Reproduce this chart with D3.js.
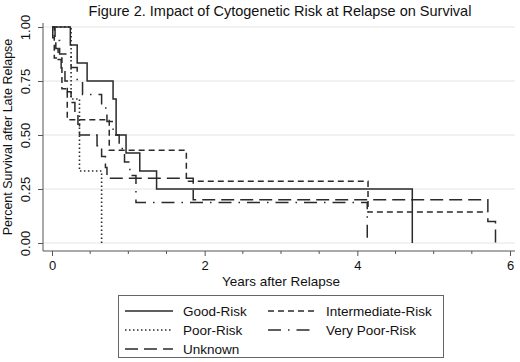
<!DOCTYPE html>
<html><head><meta charset="utf-8">
<script src="https://cdn.jsdelivr.net/npm/d3@7"></script>
<style>html,body{margin:0;padding:0;background:#fff;}svg{display:block;font-family:"Liberation Sans",Arial,sans-serif;}</style>
</head><body><svg id="c" width="520" height="362"></svg>
<script>
const title = "Figure 2. Impact of Cytogenetic Risk at Relapse on Survival";
const xTitle = "Years after Relapse";
const yTitle = "Percent Survival after Late Relapse";
const xTicks = [0, 2, 4, 6];
const xMinorTicks = [0.5, 1, 1.5, 2.5, 3, 3.5, 4.5, 5, 5.5];
const yTicks = [0, 0.25, 0.5, 0.75, 1];
const seriesNames = ["Good-Risk", "Intermediate-Risk", "Poor-Risk", "Very Poor-Risk", "Unknown"];

const goodTimes = [0, 0.24, 0.33, 0.46, 0.80, 0.84, 0.97, 1.15, 1.37, 4.72];
const goodSurv  = [1, 0.917, 0.833, 0.75, 0.667, 0.5, 0.417, 0.333, 0.25, 0];

const interTimes = [0, 0.03, 0.13, 0.20, 0.75, 1.76, 4.14, 5.70];
const interSurv  = [1, 0.857, 0.714, 0.571, 0.429, 0.286, 0.143, 0.143];

const poorTimes = [0, 0.25, 0.36, 0.65];
const poorSurv  = [1, 0.667, 0.333, 0];

const vpoorTimes = [0, 0.04, 0.10, 0.25, 0.33, 0.40, 0.65, 0.72, 0.80, 0.88, 0.95, 1.02, 1.10, 4.13];
const vpoorSurv  = [1, 0.9375, 0.875, 0.8125, 0.75, 0.6875, 0.625, 0.5625, 0.5, 0.4375, 0.375, 0.3125, 0.1875, 0];

const unkTimes = [0, 0.01, 0.05, 0.08, 0.12, 0.17, 0.20, 0.25, 0.30, 0.34, 0.36, 0.59, 0.65, 0.70, 0.72, 1.85, 5.71, 5.81];
const unkSurv  = [1, 0.95, 0.90, 0.85, 0.80, 0.75, 0.70, 0.65, 0.60, 0.55, 0.50, 0.45, 0.40, 0.35, 0.30, 0.20, 0.10, 0];

const dashes = {
  "Good-Risk": null,
  "Intermediate-Risk": "6,4",
  "Poor-Risk": "1.5,2.5",
  "Very Poor-Risk": "13,7,1.5,7",
  "Unknown": "13,6"
};
const seriesData = {
  "Good-Risk": [goodTimes, goodSurv],
  "Intermediate-Risk": [interTimes, interSurv],
  "Poor-Risk": [poorTimes, poorSurv],
  "Very Poor-Risk": [vpoorTimes, vpoorSurv],
  "Unknown": [unkTimes, unkSurv]
};

const svg = d3.select("#c");
const x = d3.scaleLinear().domain([0, 6]).range([52, 510]);
const y = d3.scaleLinear().domain([0, 1]).range([243, 27]);
const axisY = 251, axisX = 43;

svg.append("text").attr("x", 280).attr("y", 16).attr("text-anchor", "middle")
  .attr("font-size", 14.5).attr("fill", "#111").text(title);

// gridlines
svg.append("g").selectAll("line").data(yTicks).join("line")
  .attr("x1", axisX).attr("x2", 515).attr("y1", d => y(d)).attr("y2", d => y(d))
  .attr("stroke", "#e4e4e4").attr("stroke-width", 1);

// y axis
const ya = svg.append("g").attr("transform", `translate(${axisX},0)`)
  .call(d3.axisLeft(y).tickValues(yTicks).tickFormat(d3.format(".2f")).tickSize(5).tickSizeOuter(0));
ya.select(".domain").attr("stroke", "#555").attr("d", `M0,23V${axisY}`);
ya.selectAll(".tick line").attr("stroke", "#555");
ya.selectAll(".tick text").attr("transform", "rotate(-90)").attr("x", 0).attr("y", -13)
  .attr("dy", "0").attr("text-anchor", "middle").attr("font-size", 13).attr("fill", "#111")
  .attr("font-family", "Liberation Sans, Arial, sans-serif");

// x axis
const xa = svg.append("g").attr("transform", `translate(0,${axisY})`)
  .call(d3.axisBottom(x).tickValues(xTicks).tickFormat(d3.format("d")).tickSize(5).tickSizeOuter(0));
xa.select(".domain").attr("stroke", "#555").attr("d", `M${axisX},0H515`);
xa.selectAll(".tick line").attr("stroke", "#555");
xa.selectAll(".tick text").attr("y", 10).attr("font-size", 13).attr("fill", "#111")
  .attr("font-family", "Liberation Sans, Arial, sans-serif");
svg.append("g").selectAll("line").data(xMinorTicks).join("line")
  .attr("x1", d => x(d)).attr("x2", d => x(d)).attr("y1", axisY).attr("y2", axisY + 3)
  .attr("stroke", "#555");

svg.append("text").attr("x", 281).attr("y", 286).attr("text-anchor", "middle")
  .attr("font-size", 13.5).attr("fill", "#111").text(xTitle);
svg.append("text").attr("transform", "translate(12,137) rotate(-90)").attr("text-anchor", "middle")
  .attr("font-size", 12.5).attr("fill", "#111").text(yTitle);

// curves
const line = d3.line().x(d => x(d[0])).y(d => y(d[1])).curve(d3.curveStepAfter);
const drawOrder = ["Unknown", "Very Poor-Risk", "Poor-Risk", "Intermediate-Risk", "Good-Risk"];
drawOrder.forEach(name => {
  const [t, s] = seriesData[name];
  const pts = t.map((ti, i) => [ti, s[i]]);
  svg.append("path").attr("d", line(pts)).attr("fill", "none")
    .attr("stroke", "#2a2a2a").attr("stroke-width", name === "Poor-Risk" ? 1.6 : 1.5)
    .attr("stroke-dasharray", dashes[name]);
});

// legend
const lg = svg.append("g");
lg.append("rect").attr("x", 118.5).attr("y", 295.5).attr("width", 325).attr("height", 62)
  .attr("fill", "#fff").attr("stroke", "#666").attr("stroke-width", 1);
const legendPos = {
  "Good-Risk": [125, 311], "Poor-Risk": [125, 330], "Unknown": [125, 349],
  "Intermediate-Risk": [268, 311], "Very Poor-Risk": [268, 330]
};
seriesNames.forEach(name => {
  const [lx, ly] = legendPos[name];
  lg.append("line").attr("x1", lx).attr("x2", lx + 48).attr("y1", ly).attr("y2", ly)
    .attr("stroke", "#2a2a2a").attr("stroke-width", 1.5).attr("stroke-dasharray", dashes[name]);
  lg.append("text").attr("x", lx + 58).attr("y", ly + 5).attr("font-size", 13.5)
    .attr("fill", "#111").text(name);
});
</script></body></html>
